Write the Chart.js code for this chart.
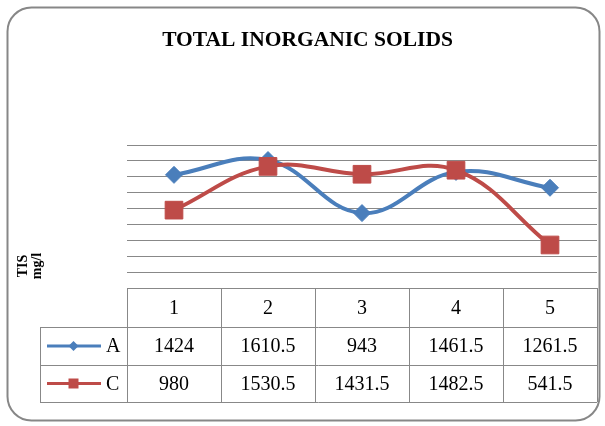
<!DOCTYPE html>
<html>
<head>
<meta charset="utf-8">
<script src="https://cdn.jsdelivr.net/npm/chart.js@4.4.0/dist/chart.umd.min.js"></script>
<style>
  html, body { margin: 0; padding: 0; background: #fff; }
  #wrap { width: 605px; height: 426px; }
</style>
</head>
<body>
<div id="wrap"><canvas id="tisChart" width="605" height="426"></canvas></div>
<script>
const categories = ["1", "2", "3", "4", "5"];
const seriesA = [1424, 1610.5, 943, 1461.5, 1261.5];
const seriesC = [980, 1530.5, 1431.5, 1482.5, 541.5];
const seriesNames = ["A", "C"];

const BLUE = "#4A7EBB";
const RED = "#BE4B48";
const GRID = "#888888";
const SERIF = "'Liberation Serif', 'Times New Roman', serif";

// frame, title and axis label
const framePlugin = {
  id: "frame",
  beforeDraw(chart) {
    const ctx = chart.ctx;
    ctx.save();
    ctx.fillStyle = "#fff";
    ctx.fillRect(0, 0, chart.width, chart.height);
    ctx.beginPath();
    ctx.roundRect(7.5, 7.5, 592, 413, 24);
    ctx.strokeStyle = "#878787";
    ctx.lineWidth = 2;
    ctx.stroke();

    ctx.fillStyle = "#000";
    ctx.font = "bold 21.5px " + SERIF;
    ctx.textAlign = "center";
    ctx.textBaseline = "alphabetic";
    ctx.fillText("TOTAL INORGANIC SOLIDS", 307.5, 46);

    ctx.translate(29, 266);
    ctx.rotate(-Math.PI / 2);
    ctx.font = "bold 14px " + SERIF;
    ctx.textBaseline = "middle";
    ctx.fillText("TIS", 0, -6);
    ctx.fillText("mg/l", 0, 8);
    ctx.restore();
  }
};

// data table under the plot, aligned to the x scale columns
const tablePlugin = {
  id: "dataTable",
  afterDraw(chart) {
    const ctx = chart.ctx;
    const area = chart.chartArea;
    const x = chart.scales.x;
    const colW = (area.right - area.left) / categories.length;
    const legendLeft = 40;
    const rows = [area.bottom, 327, 365, 402];
    const seriesData = [seriesA, seriesC];
    const colors = [BLUE, RED];

    ctx.save();
    ctx.strokeStyle = GRID;
    ctx.lineWidth = 1;
    ctx.beginPath();
    ctx.moveTo(area.left, rows[0] + 0.5);
    ctx.lineTo(area.right, rows[0] + 0.5);
    for (let r = 1; r < rows.length; r++) {
      ctx.moveTo(legendLeft, rows[r] + 0.5);
      ctx.lineTo(area.right, rows[r] + 0.5);
    }
    ctx.moveTo(legendLeft + 0.5, rows[1]);
    ctx.lineTo(legendLeft + 0.5, rows[3]);
    for (let i = 0; i <= categories.length; i++) {
      const cx = Math.round(area.left + i * colW) + 0.5;
      ctx.moveTo(cx, rows[0]);
      ctx.lineTo(cx, rows[3]);
    }
    ctx.stroke();

    ctx.fillStyle = "#000";
    ctx.font = "20px " + SERIF;
    ctx.textAlign = "center";
    ctx.textBaseline = "middle";
    categories.forEach((c, i) => {
      const cx = x.getPixelForValue(i);
      ctx.fillText(c, cx, (rows[0] + rows[1]) / 2 + 1);
      seriesData.forEach((arr, s) => {
        ctx.fillText(String(arr[i]), cx, (rows[s + 1] + rows[s + 2]) / 2 + 1);
      });
    });

    // legend keys
    seriesNames.forEach((name, s) => {
      const cy = (rows[s + 1] + rows[s + 2]) / 2;
      ctx.strokeStyle = colors[s];
      ctx.fillStyle = colors[s];
      ctx.lineWidth = 3;
      ctx.beginPath();
      ctx.moveTo(47, cy);
      ctx.lineTo(101, cy);
      ctx.stroke();
      ctx.beginPath();
      if (s === 0) {
        ctx.moveTo(73.5 - 5, cy);
        ctx.lineTo(73.5, cy - 5);
        ctx.lineTo(73.5 + 5, cy);
        ctx.lineTo(73.5, cy + 5);
        ctx.closePath();
      } else {
        ctx.rect(73.5 - 5, cy - 5, 10, 10);
      }
      ctx.fill();
      ctx.fillStyle = "#000";
      ctx.textAlign = "left";
      ctx.fillText(name, 106, cy + 1);
    });
    ctx.restore();
  }
};

new Chart(document.getElementById("tisChart"), {
  type: "line",
  data: {
    labels: categories,
    datasets: [
      {
        label: seriesNames[0],
        data: seriesA,
        borderColor: BLUE,
        backgroundColor: BLUE,
        borderWidth: 4,
        tension: 0.4,
        pointStyle: "rectRot",
        pointRadius: 8.5,
        pointBorderWidth: 1,
        order: 1
      },
      {
        label: seriesNames[1],
        data: seriesC,
        borderColor: RED,
        backgroundColor: RED,
        borderWidth: 4,
        tension: 0.4,
        pointStyle: "rect",
        pointRadius: 12.5,
        pointBorderWidth: 1,
        order: 0
      }
    ]
  },
  options: {
    responsive: false,
    animation: false,
    devicePixelRatio: 1,
    layout: {
      autoPadding: false,
      padding: { left: 127, top: 145, right: 8, bottom: 138 }
    },
    plugins: {
      legend: { display: false },
      title: { display: false },
      tooltip: { enabled: false }
    },
    scales: {
      x: {
        display: false,
        offset: true
      },
      y: {
        min: 0,
        max: 1800,
        ticks: { display: false, stepSize: 200 },
        border: { display: false },
        grid: { color: GRID, lineWidth: 1, drawTicks: false }
      }
    }
  },
  plugins: [framePlugin, tablePlugin]
});
</script>
</body>
</html>
